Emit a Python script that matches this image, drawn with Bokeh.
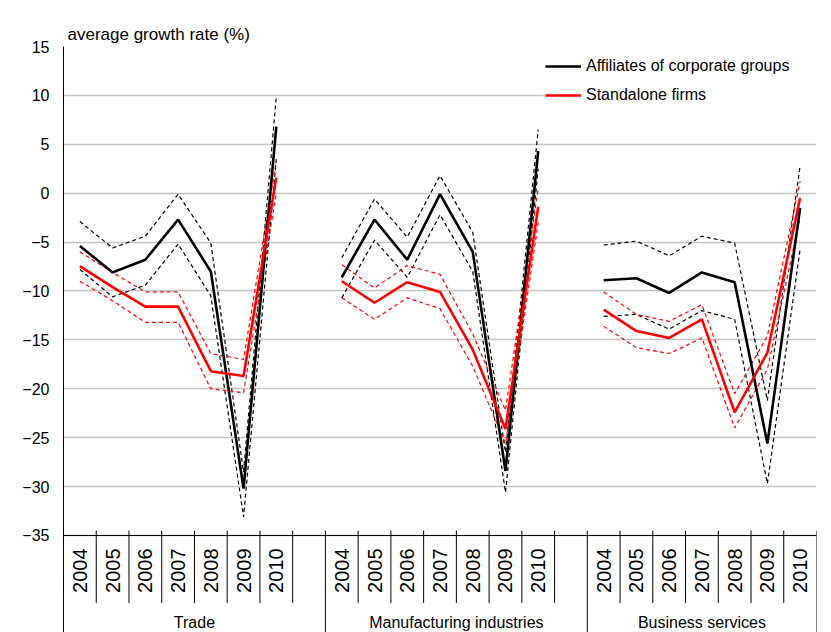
import numpy as np
from bokeh.plotting import figure
from bokeh.models import Range1d, FixedTicker, Span, Legend, LegendItem
from bokeh.embed import file_html
from bokeh.resources import INLINE
from bokeh.core.properties import value

FONT = "Liberation Sans"

# ---- data ----
years = ["2004", "2005", "2006", "2007", "2008", "2009", "2010"]
groups = ["Trade", "Manufacturing industries", "Business services"]
y_ticks = [15, 10, 5, 0, -5, -10, -15, -20, -25, -30, -35]

aff_trade = [-5.4, -8.1, -6.8, -2.7, -8.0, -30.2, 6.8]
aff_trade_hi = [-2.9, -5.6, -4.4, -0.1, -5.1, -28.5, 9.9]
aff_trade_lo = [-7.8, -10.6, -9.4, -5.2, -10.5, -33.1, 3.5]
sa_trade = [-7.45, -9.6, -11.6, -11.6, -18.2, -18.7, 1.6]
sa_trade_hi = [-6.0, -8.1, -10.1, -10.1, -16.4, -17.0, 3.3]
sa_trade_lo = [-9.0, -11.0, -13.2, -13.2, -20.0, -20.4, 0.0]

aff_manu = [-8.6, -2.7, -6.8, -0.1, -6.0, -28.4, 4.3]
aff_manu_hi = [-6.6, -0.6, -4.5, 1.8, -4.0, -26.5, 6.5]
aff_manu_lo = [-10.7, -4.8, -8.6, -2.2, -8.0, -30.6, 2.5]
sa_manu = [-9.0, -11.2, -9.1, -10.1, -16.0, -24.1, -1.4]
sa_manu_hi = [-7.3, -9.7, -7.4, -8.3, -14.4, -22.2, 0.5]
sa_manu_lo = [-10.7, -12.9, -10.7, -11.8, -17.7, -25.6, -3.0]

aff_bus = [-8.9, -8.7, -10.2, -8.1, -9.1, -25.6, -1.5]
aff_bus_hi = [-5.3, -4.9, -6.4, -4.4, -5.1, -21.2, 2.8]
aff_bus_lo = [-12.6, -12.4, -13.9, -12.0, -12.9, -29.7, -5.7]
sa_bus = [-11.9, -14.1, -14.8, -12.9, -22.4, -16.3, -0.5]
sa_bus_hi = [-10.1, -12.4, -13.1, -11.4, -20.5, -14.6, 1.2]
sa_bus_lo = [-13.6, -15.8, -16.4, -14.8, -24.0, -18.0, -2.5]

aff = [aff_trade, aff_manu, aff_bus]
aff_hi = [aff_trade_hi, aff_manu_hi, aff_bus_hi]
aff_lo = [aff_trade_lo, aff_manu_lo, aff_bus_lo]
sa = [sa_trade, sa_manu, sa_bus]
sa_hi = [sa_trade_hi, sa_manu_hi, sa_bus_hi]
sa_lo = [sa_trade_lo, sa_manu_lo, sa_bus_lo]

# ---- category slots: 7 years per group, one empty slot between groups ----
SLOTS_PER_GROUP = len(years) + 1
n_slots = SLOTS_PER_GROUP * len(groups) - 1
xs_group = [[g * SLOTS_PER_GROUP + i + 0.5 for i in range(len(years))] for g in range(len(groups))]

W, H = 831, 632
p = figure(width=W, height=H, output_backend="svg", toolbar_location=None,
           x_range=Range1d(0, n_slots), y_range=Range1d(-44.92, 15),
           x_axis_location=None, title="average growth rate (%)",
           min_border_left=63, min_border_right=15, min_border_top=46, min_border_bottom=0)
p.outline_line_color = None
p.background_fill_color = "white"
p.border_fill_color = "white"

p.title.align = "left"
p.title.offset = 4
p.title.standoff = 6
p.title.text_font = FONT
p.title.text_font_size = "17px"
p.title.text_font_style = "normal"
p.title.text_color = "black"

p.yaxis.ticker = FixedTicker(ticks=y_ticks)
p.ygrid.ticker = FixedTicker(ticks=y_ticks)
p.yaxis.major_tick_out = 0
p.yaxis.major_tick_in = 0
p.yaxis.minor_tick_out = 0
p.yaxis.minor_tick_in = 0
p.yaxis.axis_line_color = "black"
p.yaxis.axis_line_width = 1
p.yaxis.major_label_text_font = FONT
p.yaxis.major_label_text_font_size = "16px"
p.yaxis.major_label_text_color = "black"
p.yaxis.major_label_standoff = 14
p.ygrid.grid_line_color = "#c4c4c4"
p.ygrid.grid_line_width = 1.5
p.xgrid.visible = False

# x axis line and category separators
p.add_layout(Span(location=y_ticks[-1], dimension="width", line_color="black", line_width=1))
long_x = [g * SLOTS_PER_GROUP for g in range(len(groups))] + [n_slots]
short_x = [g * SLOTS_PER_GROUP + i for g in range(len(groups)) for i in range(1, SLOTS_PER_GROUP)
           if g * SLOTS_PER_GROUP + i < n_slots]
p.segment(x0=long_x, y0=-34.5, x1=long_x, y1=-45.5, line_color="black", line_width=1)
p.segment(x0=short_x, y0=-34.5, x1=short_x, y1=-41.9, line_color="black", line_width=1)

# year labels
p.text(x=[x for xs in xs_group for x in xs], y=-38.6, text=years * len(groups),
       angle=np.pi / 2, text_align="center", text_baseline="middle",
       text_font=value(FONT), text_font_size="20px", text_color="black")
# group labels
gx = [(g * SLOTS_PER_GROUP + min(g * SLOTS_PER_GROUP + SLOTS_PER_GROUP, n_slots)) / 2 for g in range(len(groups))]
p.text(x=gx, y=-43.9, text=groups, text_align="center", text_baseline="middle",
       text_font=value(FONT), text_font_size="16px", text_color="black")

# series
DASH = "4 3"
p.multi_line(xs=xs_group, ys=aff_hi, line_color="black", line_width=1.2, line_dash=DASH)
p.multi_line(xs=xs_group, ys=aff_lo, line_color="black", line_width=1.2, line_dash=DASH)
p.multi_line(xs=xs_group, ys=sa_hi, line_color="#ff0000", line_width=1.2, line_dash=DASH)
p.multi_line(xs=xs_group, ys=sa_lo, line_color="#ff0000", line_width=1.2, line_dash=DASH)
r_aff = p.multi_line(xs=xs_group, ys=aff, line_color="black", line_width=2.6)
r_sa = p.multi_line(xs=xs_group, ys=sa, line_color="#ff0000", line_width=2.6)

legend = Legend(items=[LegendItem(label="Affiliates of corporate groups", renderers=[r_aff]),
                       LegendItem(label="Standalone firms", renderers=[r_sa])],
                location=(482, 528), margin=0, padding=10, spacing=11,
                glyph_width=36, glyph_height=16, label_height=16, label_standoff=5,
                label_width=238,
                label_text_font=FONT, label_text_font_size="16px", label_text_color="black",
                border_line_color=None, background_fill_color="white", background_fill_alpha=1)
p.add_layout(legend)

open("out.html", "w").write(file_html(p, INLINE))
